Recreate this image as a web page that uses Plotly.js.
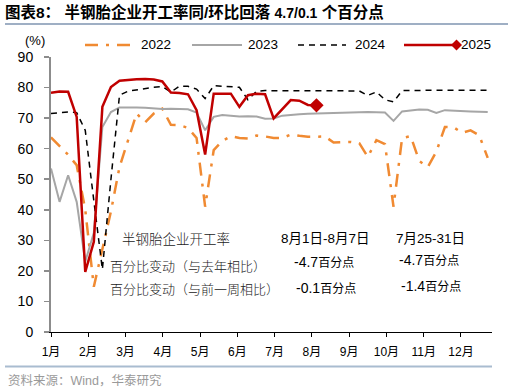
<!DOCTYPE html>
<html>
<head>
<meta charset="utf-8">
<script src="https://cdn.plot.ly/plotly-3.0.1.min.js"></script>
<style>html,body{margin:0;padding:0;background:#fff;}#chart{width:513px;height:392px;}</style>
</head>
<body>
<div id="chart"></div>
<script>
// ---- data ----
const weeks = [1,2,3,4,5,6,7,8,9,10,11,12,13,14,15,16,17,18,19,20,21,22,23,24,25,26,27,28,29,30,31,32,33,34,35,36,37,38,39,40,41,42,43,44,45,46,47,48,49,50,51,52];
const y2022 = [63.7,61,58,54.6,40,14.8,27,39.5,54,62.8,71.5,68.6,71.5,73.1,67.8,67.7,66.8,63.5,41,59.5,62.5,64.1,63.5,63.3,64.3,64,63.5,63.5,64.6,64.2,63.9,63.9,64,62,62,62.2,61.8,57.3,62.8,61.5,41,63.5,64.1,56,54,59,67.1,67,65.2,66,64.4,57];
const y2023 = [53.5,42.6,51.3,42.6,23,32.5,67.1,72,73.5,73.6,73.5,73.4,73.2,73.0,73.1,73.0,72.9,71.8,66,70.4,71,70.8,70.5,70.6,70.5,69.8,69.9,70.8,71.1,71.3,71.4,71.5,71.6,71.7,71.8,71.9,72,72,71.9,71.8,69.1,72.2,72.5,72.8,72.7,71.7,72.6,72.4,72.3,72.2,72.1,72];
const y2024 = [71.5,71.8,72,71.8,66,43,20.5,50,77.5,78.8,79.3,79.7,80.1,80.3,78.5,80.5,80.4,79.5,76.4,80.6,80.5,80.3,80.1,76,78.8,79,79,79,79,79,79,79,79,79,79,79,78.9,77.4,78.6,76,75.3,79,79.1,79.1,79.1,79.1,79.1,79.1,79.1,79.1,79.1,79.1];
const y2025 = [78.3,78.7,78.6,70.4,19.7,29.5,73.7,80.2,82.2,82.5,82.7,82.8,82.6,82.0,78.4,78.2,77.8,72.6,58.1,78.0,78.0,78.0,73.7,77.5,78.0,77.8,69.9,72.8,75.9,75.7,74.3,74.2];
const seriesNames = ['2022','2023','2024','2025'];
const monthLabels = ['1月','2月','3月','4月','5月','6月','7月','8月','9月','10月','11月','12月'];
const tableRowLabels = ['半钢胎企业开工率','百分比变动（与去年相比）','百分比变动（与前一周相比）'];
const tableCol1 = ['8月1日-8月7日','-4.7','-0.1'];
const tableCol2 = ['7月25-31日','-4.7','-1.4'];
const unitText = '百分点';

// ---- styling / layout ----
const C22 = '#F08A32', C23 = '#A6A6A6', C24 = '#000000', C25 = '#C00000';
const FONT = 'Liberation Sans, Arial, Noto Sans CJK SC, sans-serif';
const L = 51, R = 492, T = 57, B = 332;
const px = x => (x - L) / (R - L);
const py = y => (B - y) / (B - T);
const tickStep = 4.3525;
const tickvals = monthLabels.map((_, i) => 1 + i * tickStep);

const w25 = weeks.slice(0, y2025.length);
const traces = [
  {x: weeks, y: y2022, name: seriesNames[0], mode: 'lines', line: {color: C22, width: 2.5, dash: '13px,8px,3px,8px'}},
  {x: weeks, y: y2023, name: seriesNames[1], mode: 'lines', line: {color: C23, width: 2}},
  {x: weeks, y: y2024, name: seriesNames[2], mode: 'lines', line: {color: C24, width: 1.5, dash: '6px,5px'}},
  {x: w25, y: y2025, name: seriesNames[3], mode: 'lines', line: {color: C25, width: 2.5}},
  {x: [w25[w25.length - 1]], y: [y2025[y2025.length - 1]], mode: 'markers', showlegend: false,
   marker: {symbol: 'diamond', size: 11, color: C25}}
];

const ann = [];
const shapes = [];
function text(t, x, y, opts) {
  ann.push(Object.assign({text: t, x: px(x), y: py(y), xref: 'paper', yref: 'paper', showarrow: false,
    xanchor: 'left', yanchor: 'middle', font: {family: FONT, size: 13, color: '#000'}}, opts || {}));
}
// (%) label
text('(%)', 23, 40, {font: {family: FONT, size: 13, color: '#000'}});
// manual legend
const legItems = [
  {x0: 85, x1: 133, tx: 141, line: {color: C22, width: 2.5, dash: '13px,8px,3px,8px'}},
  {x0: 192, x1: 242, tx: 248, line: {color: C23, width: 2}},
  {x0: 298, x1: 346, tx: 355, line: {color: C24, width: 1.5, dash: '6px,5px'}},
  {x0: 404, x1: 456, tx: 461, line: {color: C25, width: 2.5}}
];
const legY = 45;
legItems.forEach((it, i) => {
  shapes.push({type: 'line', xref: 'paper', yref: 'paper', x0: px(it.x0), x1: px(it.x1), y0: py(legY), y1: py(legY), line: it.line});
  text(seriesNames[i], it.tx - 2, legY, {font: {family: FONT, size: 13.5, color: '#000'}});
});
// legend diamond
{
  const cx = 456.5, cy = legY, h = 5.5;
  shapes.push({type: 'path', xref: 'paper', yref: 'paper',
    path: `M ${px(cx - h)} ${py(cy)} L ${px(cx)} ${py(cy - h)} L ${px(cx + h)} ${py(cy)} L ${px(cx)} ${py(cy + h)} Z`,
    fillcolor: C25, line: {color: C25, width: 0}});
}
// table
const cjkFont = {family: 'Noto Sans CJK SC, Liberation Sans, sans-serif', size: 13, color: '#222', weight: 300};
text(tableRowLabels[0], 120, 238, {font: Object.assign({}, cjkFont, {size: 13.5})});
text(tableRowLabels[1], 108, 265, {font: cjkFont});
text(tableRowLabels[2], 108, 288, {font: cjkFont});
const numFont = {family: FONT, size: 14, color: '#000'};
const unit = `<span style="font-size:12px;font-family:Noto Sans CJK SC">${unitText}</span>`;
text(tableCol1[0], 279, 238, {font: {family: FONT, size: 13.5, color: '#000'}});
text(tableCol2[0], 394, 238, {font: {family: FONT, size: 13.5, color: '#000'}});
text(tableCol1[1] + unit, 292, 261, {font: numFont});
text(tableCol2[1] + unit, 397, 259, {font: numFont});
text(tableCol1[2] + unit, 294, 287, {font: numFont});
text(tableCol2[2] + unit, 399, 285, {font: numFont});
// footer
text('资料来源：Wind，华泰研究', 6, 380, {font: {family: 'Liberation Sans, Noto Sans CJK SC, sans-serif', size: 12.5, color: '#9a9a9a'}});
// title line & footer line
shapes.push({type: 'line', xref: 'paper', yref: 'paper', x0: px(5), x1: px(508), y0: py(24), y1: py(24), line: {color: '#7F95B0', width: 1.5}});
shapes.push({type: 'line', xref: 'paper', yref: 'paper', x0: px(5), x1: px(492), y0: py(366.5), y1: py(366.5), line: {color: '#A9BCD0', width: 2}});

const titleText = '<b>图表8：\u00a0半钢胎企业开工率同/环比回落 <span style="font-size:14px">4.7/0.1</span> 个百分点</b>';

const layout = {
  width: 513, height: 392,
  margin: {l: L, r: 513 - R, t: T, b: 392 - B, pad: 0},
  paper_bgcolor: '#fff', plot_bgcolor: '#fff',
  showlegend: false,
  title: {text: titleText,
    x: 5 / 513, xref: 'container', xanchor: 'left', y: 1 - 13 / 392, yref: 'container', yanchor: 'middle',
    font: {family: 'Liberation Sans, Noto Sans CJK SC, sans-serif', size: 15.5, color: '#000'}},
  xaxis: {range: [1, 52.5], tickvals: tickvals, ticktext: monthLabels, showgrid: false, zeroline: false,
    showline: true, linecolor: '#000', linewidth: 1, ticks: 'outside', ticklen: 4, tickcolor: '#000',
    tickfont: {family: FONT, size: 12, color: '#000'}, ticklabelstandoff: 5},
  yaxis: {range: [0, 90], dtick: 10, showgrid: false, zeroline: false, showline: true, linecolor: '#8c8c8c',
    linewidth: 2, ticks: 'outside', ticklen: 5, tickcolor: '#8c8c8c', tickwidth: 1.5,
    tickfont: {family: FONT, size: 14, color: '#000'}, ticklabelstandoff: 8},
  annotations: ann, shapes: shapes
};
Plotly.newPlot('chart', traces, layout, {staticPlot: true, displayModeBar: false});
</script>
</body>
</html>
